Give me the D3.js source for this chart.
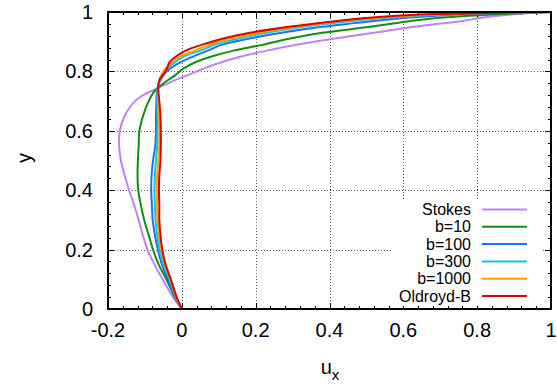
<!DOCTYPE html>
<html>
<head>
<meta charset="utf-8">
<script src="https://cdn.jsdelivr.net/npm/d3@7"></script>
<style>
  html, body { margin: 0; padding: 0; background: #fff; }
  svg { display: block; font-family: "Liberation Sans", Arial, sans-serif; }
</style>
</head>
<body>
<svg id="chart" width="557" height="388"></svg>
<script>
// ---- data ----
const yLevels = [0, 0.04, 0.1, 0.15, 0.2, 0.25, 0.3, 0.35, 0.4, 0.45, 0.5, 0.55, 0.6, 0.65, 0.7, 0.725, 0.745, 0.77, 0.79, 0.81, 0.83, 0.85, 0.87, 0.89, 0.91, 0.93, 0.95, 0.97, 0.98, 0.99, 0.995, 1];

const uStokes = [0, -0.024, -0.052, -0.074, -0.093, -0.106, -0.117, -0.129, -0.143, -0.155, -0.165, -0.170, -0.168, -0.155, -0.127, -0.098, -0.062, -0.020, 0.022, 0.060, 0.105, 0.160, 0.230, 0.310, 0.410, 0.520, 0.630, 0.760, 0.810, 0.880, 0.920, 1];
const uB10    = [0, -0.019, -0.042, -0.063, -0.078, -0.090, -0.102, -0.111, -0.118, -0.120, -0.119, -0.117, -0.115, -0.105, -0.090, -0.079, -0.065, -0.038, -0.015, 0.005, 0.035, 0.080, 0.140, 0.220, 0.290, 0.380, 0.510, 0.620, 0.690, 0.820, 0.900, 1];
const uB100   = [0, -0.017, -0.038, -0.054, -0.065, -0.073, -0.079, -0.081, -0.083, -0.082, -0.078, -0.072, -0.070, -0.070, -0.069, -0.068, -0.066, -0.058, -0.048, -0.032, -0.005, 0.030, 0.070, 0.110, 0.180, 0.270, 0.380, 0.520, 0.600, 0.720, 0.820, 1];
const uB300   = [0, -0.016, -0.033, -0.049, -0.060, -0.067, -0.071, -0.073, -0.074, -0.073, -0.070, -0.067, -0.066, -0.066, -0.066, -0.066, -0.065, -0.060, -0.053, -0.040, -0.020, 0.005, 0.050, 0.090, 0.150, 0.230, 0.330, 0.460, 0.550, 0.680, 0.780, 1];
const uB1000  = [0, -0.015, -0.031, -0.046, -0.056, -0.062, -0.066, -0.067, -0.068, -0.067, -0.064, -0.061, -0.061, -0.062, -0.064, -0.065, -0.065, -0.061, -0.055, -0.044, -0.028, -0.005, 0.035, 0.075, 0.130, 0.210, 0.310, 0.430, 0.520, 0.650, 0.760, 1];
const uOldB   = [0, -0.014, -0.030, -0.044, -0.053, -0.058, -0.061, -0.061, -0.062, -0.061, -0.058, -0.057, -0.057, -0.058, -0.061, -0.063, -0.064, -0.061, -0.050, -0.040, -0.034, -0.016, 0.010, 0.055, 0.110, 0.185, 0.290, 0.420, 0.500, 0.620, 0.780, 1];

const seriesNames  = ["Stokes", "b=10", "b=100", "b=300", "b=1000", "Oldroyd-B"];
const seriesValues = [uStokes, uB10, uB100, uB300, uB1000, uOldB];
const seriesColors = ["#c080ff", "#109010", "#1a70ff", "#10c8d0", "#ffa000", "#e00000"];

const xTicks = [-0.2, 0, 0.2, 0.4, 0.6, 0.8, 1];
const yTicks = [0, 0.2, 0.4, 0.6, 0.8, 1];
const xLabel = "u";
const xLabelSub = "x";
const yLabel = "y";

// ---- layout ----
const svg = d3.select("#chart");
const L = 108, R = 551, T = 12, B = 309;
const x = d3.scaleLinear().domain([-0.2, 1]).range([L, R]);
const y = d3.scaleLinear().domain([0, 1]).range([B, T]);
const fmt = (v) => String(+v.toFixed(1));

// grid
const grid = svg.append("g").attr("stroke", "#555").attr("stroke-width", 1).attr("stroke-dasharray", "1,2");
grid.selectAll("line.gx").data(xTicks.filter(d => d > -0.2 && d < 1)).enter().append("line")
  .attr("x1", d => Math.round(x(d)) + 0.5).attr("x2", d => Math.round(x(d)) + 0.5)
  .attr("y1", T).attr("y2", B);
grid.selectAll("line.gy").data(yTicks.filter(d => d > 0 && d < 1)).enter().append("line")
  .attr("y1", d => Math.round(y(d)) + 0.5).attr("y2", d => Math.round(y(d)) + 0.5)
  .attr("x1", L).attr("x2", R);

// ticks on all four sides (inward)
const xMinor = d3.range(-0.2, 1.0001, 0.04);
const yMinor = d3.range(0, 1.0001, 0.04);
const tk = svg.append("g").attr("stroke", "#000").attr("stroke-width", 1);
const isMajor = (v) => Math.abs(v * 5 - Math.round(v * 5)) < 1e-6;
xMinor.forEach(v => {
  const len = isMajor(v) ? 6 : 3;
  const px = Math.round(x(v)) + 0.5;
  tk.append("line").attr("x1", px).attr("x2", px).attr("y1", B).attr("y2", B - len);
  tk.append("line").attr("x1", px).attr("x2", px).attr("y1", T).attr("y2", T + len);
});
yMinor.forEach(v => {
  const len = isMajor(v) ? 6 : 3;
  const py = Math.round(y(v)) + 0.5;
  tk.append("line").attr("y1", py).attr("y2", py).attr("x1", L).attr("x2", L + len);
  tk.append("line").attr("y1", py).attr("y2", py).attr("x1", R).attr("x2", R - len);
});

// curves
svg.append("clipPath").attr("id", "clip").append("rect")
  .attr("x", L).attr("y", T).attr("width", R - L).attr("height", B - T);
const line = d3.line()
  .x(d => x(d[0])).y(d => y(d[1]))
  .curve(d3.curveCatmullRom.alpha(0.5));
const curves = svg.append("g").attr("clip-path", "url(#clip)");
seriesValues.forEach((vals, i) => {
  const pts = vals.map((u, j) => [u, yLevels[j]]);
  curves.append("path").datum(pts)
    .attr("d", line)
    .attr("fill", "none")
    .attr("stroke", seriesColors[i])
    .attr("stroke-width", 2)
    .attr("stroke-linejoin", "round");
});

// legend (opaque)
const legRowY = (i) => 296 - (seriesNames.length - 1 - i) * 17.3;
svg.append("rect").attr("x", 392).attr("y", 200).attr("width", 150).attr("height", 106).attr("fill", "#fff");
const leg = svg.append("g");
seriesNames.forEach((name, i) => {
  const yy = legRowY(i);
  leg.append("text").attr("x", 471).attr("y", yy).attr("dy", "0.35em")
    .attr("text-anchor", "end").attr("font-size", 16).attr("fill", "#000").text(name);
  leg.append("line").attr("x1", 482).attr("x2", 527).attr("y1", yy).attr("y2", yy)
    .attr("stroke", seriesColors[i]).attr("stroke-width", 2);
});

// border
svg.append("rect").attr("x", L).attr("y", T).attr("width", R - L).attr("height", B - T)
  .attr("fill", "none").attr("stroke", "#000").attr("stroke-width", 2);

// tick labels
const lab = svg.append("g").attr("font-size", 20).attr("fill", "#000");
xTicks.forEach(v => {
  lab.append("text").attr("x", x(v)).attr("y", 337).attr("text-anchor", "middle").text(fmt(v));
});
yTicks.forEach(v => {
  lab.append("text").attr("x", 93).attr("y", y(v)).attr("dy", "0.35em").attr("text-anchor", "end").text(fmt(v));
});

// axis titles
const xt = svg.append("text").attr("x", 330).attr("y", 374).attr("text-anchor", "middle").attr("font-size", 20);
xt.append("tspan").text(xLabel);
xt.append("tspan").attr("font-size", 15).attr("dy", 6).text(xLabelSub);
svg.append("text").attr("transform", "translate(24,158) rotate(-90)")
  .attr("text-anchor", "middle").attr("dy", "0.35em").attr("font-size", 20).text(yLabel);
</script>
</body>
</html>
